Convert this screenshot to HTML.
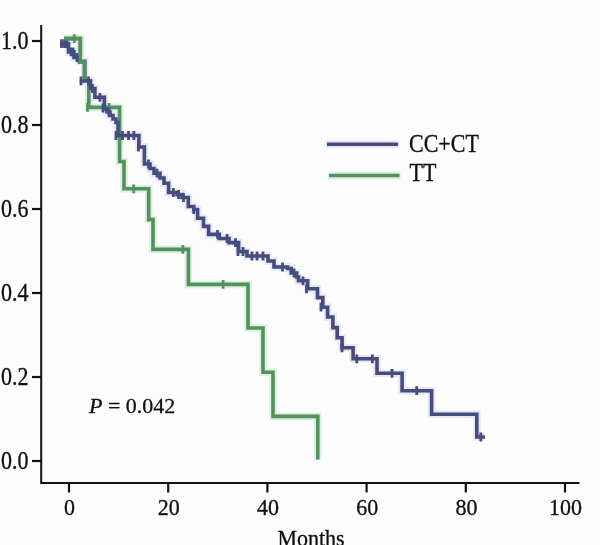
<!DOCTYPE html>
<html><head><meta charset="utf-8"><style>
html,body{margin:0;padding:0;background:#fdfdfd;}
svg{display:block;filter:blur(0.45px);}
text{font-family:"Liberation Serif",serif;font-size:22px;fill:#111;stroke:#111;stroke-width:0.3px;}
</style></head><body>
<svg width="600" height="545" viewBox="0 0 600 545">
<path d="M41.2,25 V483 H579.5" fill="none" stroke="#111" stroke-width="2.0"/>
<path d="M32,41 H41" stroke="#111" stroke-width="2.2"/>
<text transform="translate(28.6,48.6) scale(1,1.1)" text-anchor="end">1.0</text>
<path d="M32,125 H41" stroke="#111" stroke-width="2.2"/>
<text transform="translate(28.6,132.6) scale(1,1.1)" text-anchor="end">0.8</text>
<path d="M32,209 H41" stroke="#111" stroke-width="2.2"/>
<text transform="translate(28.6,216.6) scale(1,1.1)" text-anchor="end">0.6</text>
<path d="M32,293 H41" stroke="#111" stroke-width="2.2"/>
<text transform="translate(28.6,300.6) scale(1,1.1)" text-anchor="end">0.4</text>
<path d="M32,377 H41" stroke="#111" stroke-width="2.2"/>
<text transform="translate(28.6,384.6) scale(1,1.1)" text-anchor="end">0.2</text>
<path d="M32,461 H41" stroke="#111" stroke-width="2.2"/>
<text transform="translate(28.6,468.6) scale(1,1.1)" text-anchor="end">0.0</text>
<path d="M69,483 V492.5" stroke="#111" stroke-width="2.2"/>
<text transform="translate(69.6,514.5) scale(1,1.08)" text-anchor="middle">0</text>
<path d="M168.2,483 V492.5" stroke="#111" stroke-width="2.2"/>
<text transform="translate(168.79999999999998,514.5) scale(1,1.08)" text-anchor="middle">20</text>
<path d="M267.4,483 V492.5" stroke="#111" stroke-width="2.2"/>
<text transform="translate(268.0,514.5) scale(1,1.08)" text-anchor="middle">40</text>
<path d="M366.6,483 V492.5" stroke="#111" stroke-width="2.2"/>
<text transform="translate(367.20000000000005,514.5) scale(1,1.08)" text-anchor="middle">60</text>
<path d="M465.8,483 V492.5" stroke="#111" stroke-width="2.2"/>
<text transform="translate(466.40000000000003,514.5) scale(1,1.08)" text-anchor="middle">80</text>
<path d="M565,483 V492.5" stroke="#111" stroke-width="2.2"/>
<text transform="translate(565.6,514.5) scale(1,1.08)" text-anchor="middle">100</text>
<text transform="translate(311,546) scale(1,1.06)" text-anchor="middle">Months</text>
<text transform="translate(89,412.6) scale(1,1.0)" text-anchor="start"><tspan font-style="italic">P</tspan> = 0.042</text>
<path d="M326,144.3 H399" stroke="#e6e8f6" stroke-width="7.5"/>
<path d="M328,175.5 H400.5" stroke="#dcf0de" stroke-width="7.5"/>
<path d="M64.0,38.6 L80.3,38.6 L80.3,61.6 L84.6,61.6 L84.6,81.0 L88.8,81.0 L88.8,107.4 L119.6,107.4 L119.6,161.5 L124.0,161.5 L124.0,188.8 L148.7,188.8 L148.7,219.6 L153.0,219.6 L153.0,249.4 L188.4,249.4 L188.4,284.4 L248.0,284.4 L248.0,328.0 L263.0,328.0 L263.0,372.3 L273.0,372.3 L273.0,416.4 L317.8,416.4 L317.8,459.5" fill="none" stroke="#dcf0de" stroke-width="7.5"/>
<path d="M60.0,43.7 L68.5,43.7 L68.5,51.9 L74.0,51.9 L74.0,57.5 L79.5,57.5 L79.5,61.6 L84.6,61.6 L84.6,80.8 L90.5,80.8 L90.5,88.5 L94.9,88.5 L94.9,97.3 L104.4,97.3 L104.4,109.0 L107.0,109.0 L107.0,112.0 L110.0,112.0 L110.0,115.5 L113.0,115.5 L113.0,119.0 L116.0,119.0 L116.0,122.5 L118.0,122.5 L118.0,135.5 L138.9,135.5 L138.9,147.0 L144.4,147.0 L144.4,164.0 L150.0,164.0 L150.0,168.5 L154.0,168.5 L154.0,173.2 L160.0,173.2 L160.0,178.0 L164.0,178.0 L164.0,183.3 L168.6,183.3 L168.6,192.5 L177.0,192.5 L177.0,194.5 L182.0,194.5 L182.0,197.5 L188.3,197.5 L188.3,206.5 L193.8,206.5 L193.8,209.5 L197.6,209.5 L197.6,218.3 L203.5,218.3 L203.5,226.4 L208.6,226.4 L208.6,234.4 L219.3,234.4 L219.3,238.5 L229.0,238.5 L229.0,242.6 L238.6,242.6 L238.6,251.5 L247.0,251.5 L247.0,256.0 L268.0,256.0 L268.0,261.0 L274.0,261.0 L274.0,267.0 L287.5,267.0 L287.5,268.5 L291.2,268.5 L291.2,273.0 L296.7,273.0 L296.7,277.0 L298.5,277.0 L298.5,280.8 L307.7,280.8 L307.7,288.8 L317.5,288.8 L317.5,297.6 L322.8,297.6 L322.8,307.2 L327.6,307.2 L327.6,317.0 L332.9,317.0 L332.9,327.6 L337.2,327.6 L337.2,337.7 L342.1,337.7 L342.1,347.8 L353.1,347.8 L353.1,358.8 L377.0,358.8 L377.0,373.3 L402.1,373.3 L402.1,390.7 L431.6,390.7 L431.6,414.2 L476.8,414.2 L476.8,437.0 L484.9,437.0" fill="none" stroke="#e6e8f6" stroke-width="7.5"/>
<path d="M327,144.3 H398" stroke="#464d7e" stroke-width="3.6"/>
<path d="M329,175.5 H399.5" stroke="#53925e" stroke-width="3.7"/>
<text transform="translate(409,151.6) scale(1,1.11)" text-anchor="start">CC+CT</text>
<text transform="translate(409.5,180.6) scale(1,1.11)" text-anchor="start">TT</text>
<path d="M64.0,38.6 L80.3,38.6 L80.3,61.6 L84.6,61.6 L84.6,81.0 L88.8,81.0 L88.8,107.4 L119.6,107.4 L119.6,161.5 L124.0,161.5 L124.0,188.8 L148.7,188.8 L148.7,219.6 L153.0,219.6 L153.0,249.4 L188.4,249.4 L188.4,284.4 L248.0,284.4 L248.0,328.0 L263.0,328.0 L263.0,372.3 L273.0,372.3 L273.0,416.4 L317.8,416.4 L317.8,459.5" fill="none" stroke="#53925e" stroke-width="3.6"/>
<path d="M74.3,34.2 V43.0 M87.5,103.0 V111.8 M109.0,103.0 V111.8 M133.7,184.4 V193.2 M182.9,245.0 V253.8 M223.1,280.0 V288.8" fill="none" stroke="#53925e" stroke-width="2.8"/>
<path d="M60.0,43.7 L68.5,43.7 L68.5,51.9 L74.0,51.9 L74.0,57.5 L79.5,57.5 L79.5,61.6 L84.6,61.6 L84.6,80.8 L90.5,80.8 L90.5,88.5 L94.9,88.5 L94.9,97.3 L104.4,97.3 L104.4,109.0 L107.0,109.0 L107.0,112.0 L110.0,112.0 L110.0,115.5 L113.0,115.5 L113.0,119.0 L116.0,119.0 L116.0,122.5 L118.0,122.5 L118.0,135.5 L138.9,135.5 L138.9,147.0 L144.4,147.0 L144.4,164.0 L150.0,164.0 L150.0,168.5 L154.0,168.5 L154.0,173.2 L160.0,173.2 L160.0,178.0 L164.0,178.0 L164.0,183.3 L168.6,183.3 L168.6,192.5 L177.0,192.5 L177.0,194.5 L182.0,194.5 L182.0,197.5 L188.3,197.5 L188.3,206.5 L193.8,206.5 L193.8,209.5 L197.6,209.5 L197.6,218.3 L203.5,218.3 L203.5,226.4 L208.6,226.4 L208.6,234.4 L219.3,234.4 L219.3,238.5 L229.0,238.5 L229.0,242.6 L238.6,242.6 L238.6,251.5 L247.0,251.5 L247.0,256.0 L268.0,256.0 L268.0,261.0 L274.0,261.0 L274.0,267.0 L287.5,267.0 L287.5,268.5 L291.2,268.5 L291.2,273.0 L296.7,273.0 L296.7,277.0 L298.5,277.0 L298.5,280.8 L307.7,280.8 L307.7,288.8 L317.5,288.8 L317.5,297.6 L322.8,297.6 L322.8,307.2 L327.6,307.2 L327.6,317.0 L332.9,317.0 L332.9,327.6 L337.2,327.6 L337.2,337.7 L342.1,337.7 L342.1,347.8 L353.1,347.8 L353.1,358.8 L377.0,358.8 L377.0,373.3 L402.1,373.3 L402.1,390.7 L431.6,390.7 L431.6,414.2 L476.8,414.2 L476.8,437.0 L484.9,437.0" fill="none" stroke="#464d7e" stroke-width="3.6"/>
<path d="M61.5,39.3 V48.1 M64.5,39.3 V48.1 M67.0,39.3 V48.1 M71.0,47.5 V56.3 M73.0,47.5 V56.3 M77.0,53.1 V61.9 M81.0,76.4 V85.2 M88.5,76.4 V85.2 M92.5,84.1 V92.9 M100.0,92.9 V101.7 M103.0,103.6 V112.4 M109.0,107.6 V116.4 M116.0,131.1 V139.9 M122.5,131.1 V139.9 M128.5,131.1 V139.9 M133.9,131.1 V139.9 M138.4,142.6 V151.4 M148.5,159.6 V168.4 M157.0,168.8 V177.6 M173.3,188.1 V196.9 M178.5,190.1 V198.9 M183.5,193.1 V201.9 M193.7,205.1 V213.9 M217.5,230.0 V238.8 M227.1,234.1 V242.9 M235.5,238.2 V247.0 M238.0,247.1 V255.9 M243.0,247.1 V255.9 M252.0,251.6 V260.4 M257.0,251.6 V260.4 M263.0,251.6 V260.4 M282.5,262.6 V271.4 M294.0,268.6 V277.4 M303.0,276.4 V285.2 M306.5,284.4 V293.2 M321.0,302.8 V311.6 M342.0,343.4 V352.2 M356.8,354.4 V363.2 M372.4,354.4 V363.2 M392.0,368.9 V377.7 M416.7,386.3 V395.1 M480.8,432.6 V441.4 M79.5,80.8 H85" fill="none" stroke="#464d7e" stroke-width="2.8"/>
<path d="M64.0,38.6 L80.3,38.6 L80.3,61.6 L84.6,61.6 L84.6,79.0" fill="none" stroke="#53925e" stroke-width="3.6"/>
</svg>
</body></html>
